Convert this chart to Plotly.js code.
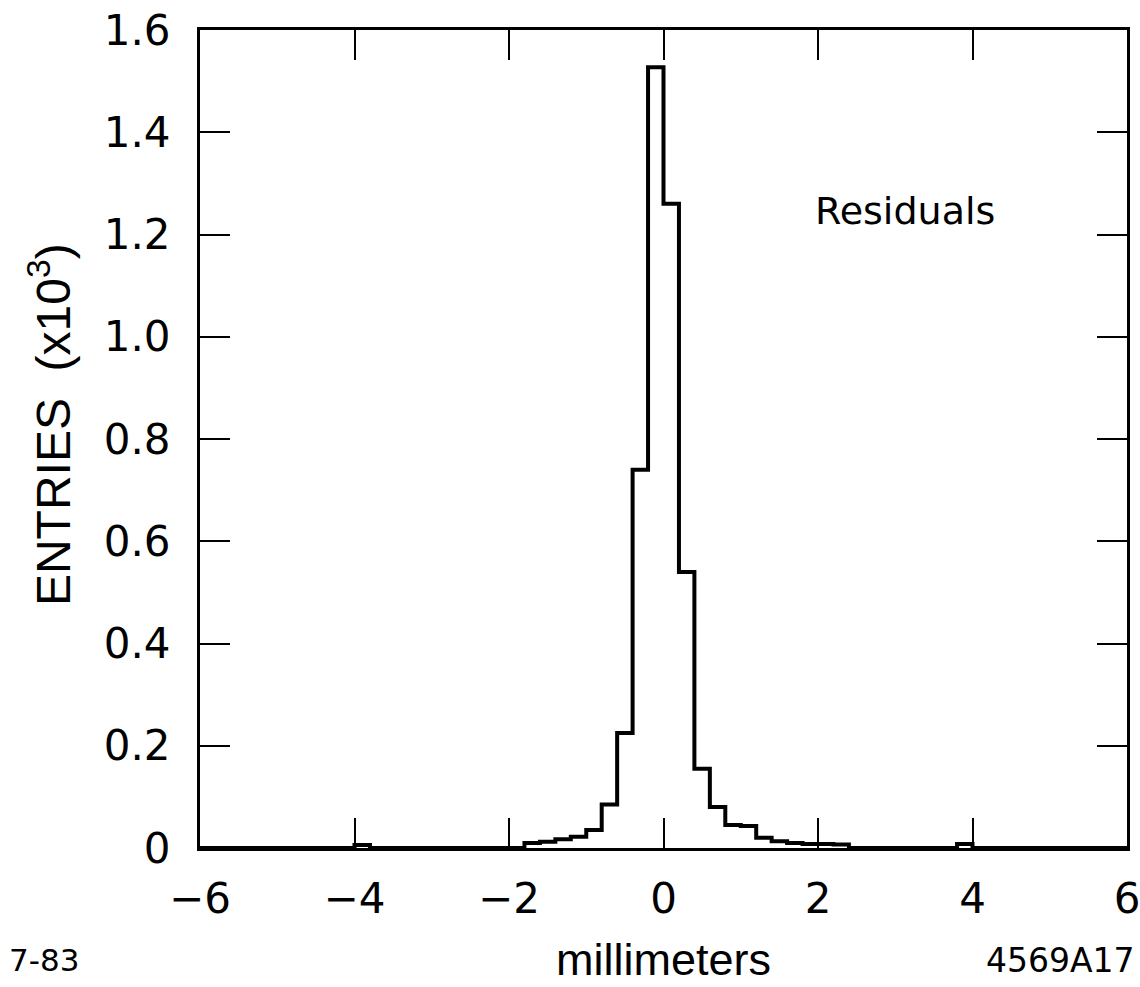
<!DOCTYPE html>
<html>
<head>
<meta charset="utf-8">
<script src="https://cdn.plot.ly/plotly-3.0.1.min.js"></script>
<style>
  html, body { margin: 0; padding: 0; background: #fff; }
  #chart { width: 1140px; height: 987px; }
</style>
</head>
<body>
<div id="chart"></div>
<script>
// Residual histogram (entries in units of 10^3), bin width 0.2 mm
const binWidth = 0.2;
const binCenters = [-3.9, -1.7, -1.5, -1.3, -1.1, -0.9, -0.7, -0.5, -0.3, -0.1,
                    0.1, 0.3, 0.5, 0.7, 0.9, 1.1, 1.3, 1.5, 1.7, 1.9, 2.1, 2.3, 3.9];
const entries = [0.006, 0.010, 0.012, 0.017, 0.022, 0.035, 0.085, 0.225, 0.740, 1.527,
                 1.260, 0.540, 0.155, 0.080, 0.045, 0.043, 0.020, 0.013, 0.010, 0.008, 0.008, 0.007, 0.008];
const xRange = [-6, 6];
const yRange = [0, 1.6];
const xTickVals = [-6, -4, -2, 0, 2, 4, 6];
const xTickText = ["\u22126", "\u22124", "\u22122", "0", "2", "4", "6"];
const yTickVals = [0, 0.2, 0.4, 0.6, 0.8, 1.0, 1.2, 1.4, 1.6];
const yTickText = ["0", "0.2", "0.4", "0.6", "0.8", "1.0", "1.2", "1.4", "1.6"];

// Build a full step outline over the whole axis range from the bins above
const nBins = Math.round((xRange[1] - xRange[0]) / binWidth);
const gridCounts = new Array(nBins).fill(0);
binCenters.forEach((c, i) => {
  const k = Math.floor((c - xRange[0]) / binWidth);
  if (k >= 0 && k < nBins) gridCounts[k] = entries[i];
});
const stepX = [], stepY = [];
for (let k = 0; k < nBins; k++) {
  stepX.push(xRange[0] + k * binWidth);
  stepY.push(gridCounts[k]);
}
stepX.push(xRange[1]);
stepY.push(gridCounts[nBins - 1]);

const trace = {
  x: stepX, y: stepY, type: 'scatter', mode: 'lines',
  line: { shape: 'hv', color: '#000', width: 4 },
  hoverinfo: 'x+y', showlegend: false
};

const tickFont = { family: 'DejaVu Sans, sans-serif', size: 42, color: '#000' };
const layout = {
  width: 1140, height: 987,
  margin: { l: 200, r: 13, t: 30, b: 139 },
  paper_bgcolor: '#fff', plot_bgcolor: '#fff',
  showlegend: false,
  xaxis: {
    range: xRange, tickmode: 'array', tickvals: xTickVals, ticktext: xTickText,
    ticks: 'inside', ticklen: 30, tickwidth: 2, tickcolor: '#000',
    showline: true, linecolor: '#000', linewidth: 3, mirror: 'ticks',
    showgrid: false, zeroline: false, tickfont: tickFont, ticklabelstandoff: 12,
    ticklabeloverflow: 'allow',
    title: { text: 'millimeters', standoff: 22,
             font: { family: 'Liberation Sans Narrow, Liberation Sans, sans-serif', size: 45, color: '#000' } }
  },
  yaxis: {
    range: yRange, tickmode: 'array', tickvals: yTickVals, ticktext: yTickText,
    ticks: 'inside', ticklen: 30, tickwidth: 2, tickcolor: '#000',
    showline: true, linecolor: '#000', linewidth: 3, mirror: 'ticks',
    showgrid: false, zeroline: false, tickfont: tickFont, ticklabelstandoff: 18
  },
  annotations: [
    { text: 'ENTRIES  (x10<sup>3</sup>)', xref: 'paper', yref: 'paper', x: -0.162, y: 0.518,
      xanchor: 'center', yanchor: 'middle', textangle: -90, showarrow: false,
      font: { family: 'Liberation Sans Narrow, Liberation Sans, sans-serif', size: 48, color: '#000' } },
    { text: 'Residuals', xref: 'x', yref: 'y', x: 3.13, y: 1.245, xanchor: 'center', yanchor: 'middle',
      showarrow: false, font: { family: 'DejaVu Sans, sans-serif', size: 38, color: '#000' } },
    { text: '7-83', xref: 'paper', yref: 'paper', x: -0.208, y: -0.137, xanchor: 'left', yanchor: 'middle',
      showarrow: false, font: { family: 'DejaVu Sans, sans-serif', size: 31, color: '#000' } },
    { text: '4569A17', xref: 'paper', yref: 'paper', x: 1.011, y: -0.137, xanchor: 'right', yanchor: 'middle',
      showarrow: false, font: { family: 'DejaVu Sans, sans-serif', size: 33, color: '#000' } }
  ]
};

Plotly.newPlot('chart', [trace], layout, { displayModeBar: false, staticPlot: false });
</script>
</body>
</html>
